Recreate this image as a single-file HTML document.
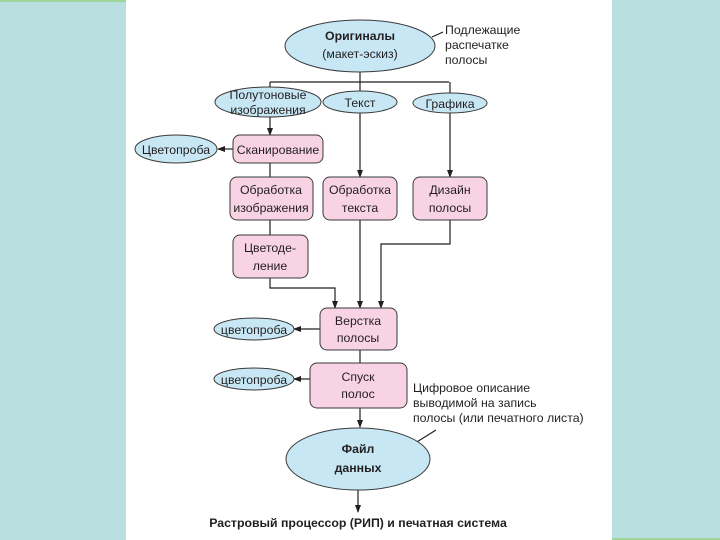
<!DOCTYPE html>
<html><head><meta charset="utf-8"><style>
html,body{margin:0;padding:0;width:720px;height:540px;overflow:hidden;background:#fff}
svg{display:block}
text{font-family:"Liberation Sans",sans-serif;font-size:12.3px;fill:#231f20}
.b{font-weight:bold}
</style></head><body>
<svg width="720" height="540" viewBox="0 0 720 540">
<defs><marker id="a" markerWidth="8" markerHeight="8" refX="7" refY="4" orient="auto" markerUnits="userSpaceOnUse"><path d="M0,1 L8,4 L0,7 Z" fill="#231f20"/></marker></defs>
<rect x="0" y="0" width="126" height="540" fill="#b9dfe0"/>
<rect x="612" y="0" width="108" height="540" fill="#b9dfe0"/>
<rect x="0" y="0" width="126" height="2" fill="#9fd49a"/>
<rect x="612" y="538" width="108" height="2" fill="#9fd49a"/>
<g stroke="#231f20" stroke-width="1.2" fill="none">
<path d="M360,72 V82 M270,82 H449 M270,82 V88 M450,82 V94 M360,82 V92"/>
<path d="M270,117 V135" marker-end="url(#a)"/>
<path d="M233,149 H218" marker-end="url(#a)"/>
<path d="M270,163 V177 M270,220 V236 M270,278 V288 H335 V308" marker-end="url(#a)"/>
<path d="M360,113 V177" marker-end="url(#a)"/>
<path d="M450,113 V177" marker-end="url(#a)"/>
<path d="M360,220 V308" marker-end="url(#a)"/>
<path d="M450,220 V244 H381 V308" marker-end="url(#a)"/>
<path d="M320,329 H294" marker-end="url(#a)"/>
<path d="M360,350 V363"/>
<path d="M310,379 H294" marker-end="url(#a)"/>
<path d="M360,408 V427" marker-end="url(#a)"/>
<path d="M358,490 V512" marker-end="url(#a)"/>
<path d="M432,37 L443,32 M412,445 L436,430"/>
</g>
<g fill="#c7e7f5" stroke="#3a3a3a" stroke-width="1">
<ellipse cx="360" cy="46" rx="75" ry="26"/>
<ellipse cx="268" cy="102" rx="53" ry="15"/>
<ellipse cx="360" cy="102" rx="37" ry="11"/>
<ellipse cx="450" cy="103" rx="37" ry="10"/>
<ellipse cx="176" cy="149" rx="41" ry="14"/>
<ellipse cx="254" cy="329" rx="40" ry="11"/>
<ellipse cx="254" cy="379" rx="40" ry="11"/>
<ellipse cx="358" cy="459" rx="72" ry="31"/>
</g>
<g fill="#f7d3e3" stroke="#3a3a3a" stroke-width="1">
<rect x="233" y="135" width="90" height="28" rx="7"/>
<rect x="230" y="177" width="83" height="43" rx="7"/>
<rect x="323" y="177" width="74" height="43" rx="7"/>
<rect x="413" y="177" width="74" height="43" rx="7"/>
<rect x="233" y="235" width="75" height="43" rx="7"/>
<rect x="320" y="308" width="77" height="42" rx="7"/>
<rect x="310" y="363" width="97" height="45" rx="7"/>
</g>
<g text-anchor="middle">
<text x="360" y="40" class="b">Оригиналы</text>
<text x="360" y="58">(макет-эскиз)</text>
<text x="268" y="99">Полутоновые</text>
<text x="268" y="114">изображения</text>
<text x="360" y="107">Текст</text>
<text x="450" y="108">Графика</text>
<text x="176" y="154">Цветопроба</text>
<text x="278" y="154">Сканирование</text>
<text x="271" y="194">Обработка</text>
<text x="271" y="212">изображения</text>
<text x="360" y="194">Обработка</text>
<text x="360" y="212">текста</text>
<text x="450" y="194">Дизайн</text>
<text x="450" y="212">полосы</text>
<text x="270" y="252">Цветоде-</text>
<text x="270" y="270">ление</text>
<text x="358" y="325">Верстка</text>
<text x="358" y="342">полосы</text>
<text x="254" y="334">цветопроба</text>
<text x="254" y="384">цветопроба</text>
<text x="358" y="381">Спуск</text>
<text x="358" y="398">полос</text>
<text x="358" y="453" class="b">Файл</text>
<text x="358" y="472" class="b">данных</text>
<text x="358" y="527" class="b">Растровый процессор (РИП) и печатная система</text>
</g>
<text x="445" y="34">Подлежащие</text>
<text x="445" y="49">распечатке</text>
<text x="445" y="64">полосы</text>
<text x="413" y="392">Цифровое описание</text>
<text x="413" y="407">выводимой на запись</text>
<text x="413" y="422">полосы (или печатного листа)</text>
</svg>
</body></html>
